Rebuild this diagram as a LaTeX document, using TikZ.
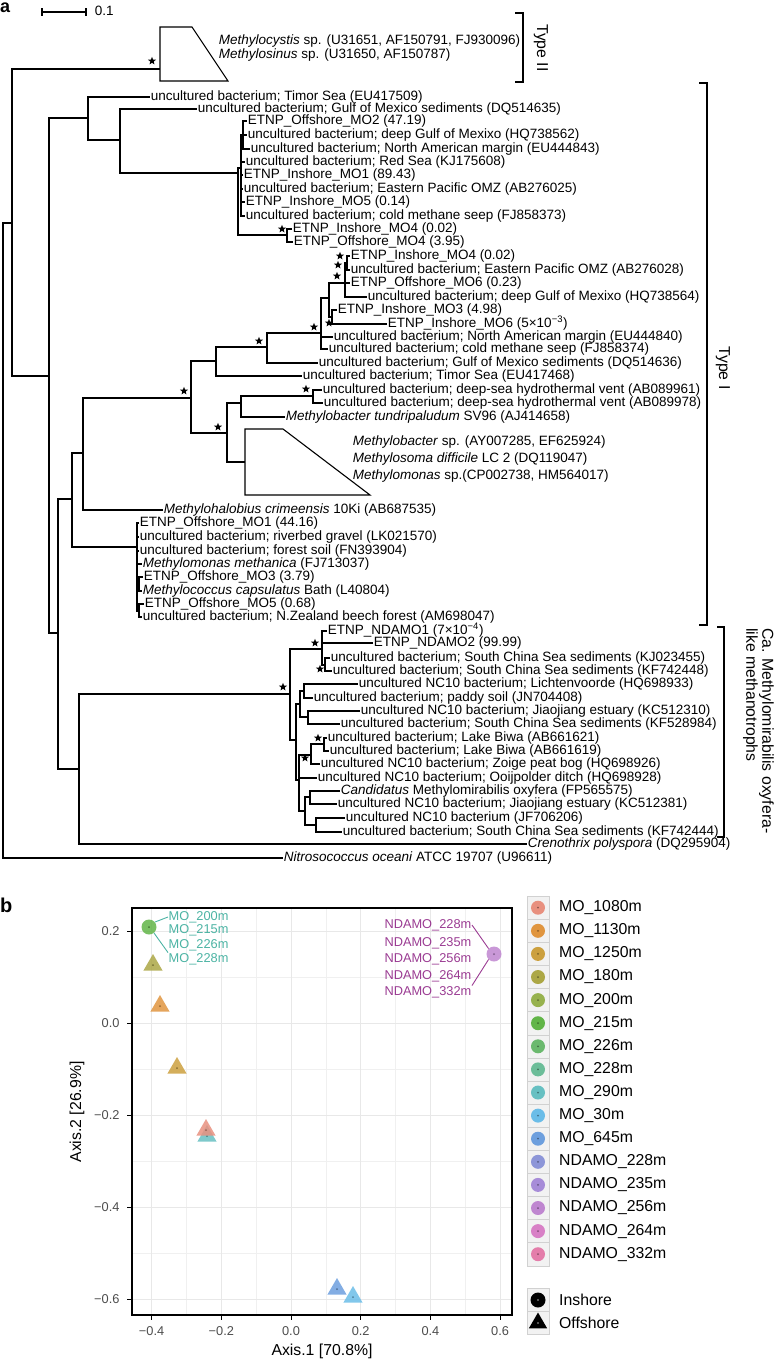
\documentclass[tikz,border=0pt]{standalone}
\usepackage{fontspec}
\setmainfont{Liberation Sans}
\usetikzlibrary{positioning,shapes.geometric}

\definecolor{c1080}{HTML}{E8907F}
\definecolor{c1130}{HTML}{E0953F}
\definecolor{c1250}{HTML}{CCA03E}
\definecolor{c180}{HTML}{ACA745}
\definecolor{c200}{HTML}{97B24E}
\definecolor{c215}{HTML}{62B548}
\definecolor{c226}{HTML}{6BB96E}
\definecolor{c228}{HTML}{6CBD99}
\definecolor{c290}{HTML}{67C0C2}
\definecolor{c30}{HTML}{6BBDE8}
\definecolor{c645}{HTML}{6D9FDE}
\definecolor{n228}{HTML}{8D96D8}
\definecolor{n235}{HTML}{A78CD8}
\definecolor{n256}{HTML}{BF86D0}
\definecolor{n264}{HTML}{D880C6}
\definecolor{n332}{HTML}{E47DAA}
\definecolor{molab}{HTML}{4BB3A3}
\definecolor{ndlab}{HTML}{9A3B92}

\begin{document}
\begin{tikzpicture}[x=1pt,y=-1pt,
		lf/.style={anchor=west,inner sep=0.6pt,font=\fontsize{13.5}{14}\selectfont,text height=9.4pt,text depth=2.4pt},
		br/.style={line width=1.1pt},
		sr/.style={star,star points=5,star point ratio=2.4,fill=black,inner sep=0pt,minimum size=8.5pt},
		bk/.style={line width=1.1pt},
		tp/.style={font=\fontsize{15.8}{16}\selectfont},
		gm/.style={black!9,line width=0.9pt},
		gn/.style={black!6,line width=0.5pt},
		tk/.style={font=\fontsize{12.8}{13}\selectfont,text=black!70},
		pc/.style={circle,fill=#1,fill opacity=0.85,inner sep=0pt,minimum size=15pt,path picture={\fill[#1!60!black] (path picture bounding box.center) circle (1pt);}},
		pt/.style={regular polygon,regular polygon sides=3,fill=#1,fill opacity=0.85,inner sep=0pt,minimum size=22pt,path picture={\fill[#1!60!black] ([yshift=-2.75pt]path picture bounding box.center) circle (1pt);}},
		rl/.style={font=\fontsize{12.8}{13}\selectfont,inner sep=0.5pt},
		kb/.style={draw=black!18,fill=black!5,minimum width=22pt,minimum height=23.1pt,inner sep=0pt,outer sep=0pt},
		kc/.style={circle,fill=#1,inner sep=0pt,minimum size=14pt,path picture={\fill[#1!60!black] (path picture bounding box.center) circle (1pt);}},
		kt/.style={anchor=west,font=\fontsize{15.8}{16}\selectfont,inner sep=0pt}
		]
		\useasboundingbox (0,0) rectangle (776,1361);
		
		% panel a
		\node [anchor=base west,inner sep=0pt,font=\fontsize{18}{18}\selectfont\bfseries] (pa) at (0,12) {a};
		\draw [br] (42,12) -- (86,12) (42,8) -- (42,16) (86,8) -- (86,16);
		\node [lf] (scale) at (94,12) {0.1};
		
		% collapsed clades
		\draw [br] (160,27) -- (192,27) -- (228,81) -- (160,81) -- cycle;
		\draw [br] (245,429) -- (283,429) -- (370,495) -- (245,495) -- cycle;
		\coordinate (t1s) at (160,69);
		\coordinate (t2s) at (245,462);
		
		% leaves
		\node [lf] (tIa) at (218,41) {\textit{Methylocystis} sp. (U31651, AF150791, FJ930096)};
		\node [lf] (tIb) at (218,55) {\textit{Methylosinus} sp. (U31650, AF150787)};
		\node [lf] (l1) at (150,97) {uncultured bacterium; Timor Sea (EU417509)};
		\node [lf] (l2) at (197,109) {uncultured bacterium; Gulf of Mexico sediments (DQ514635)};
		\node [lf] (l3) at (247,121) {ETNP\_Offshore\_MO2 (47.19)};
		\node [lf] (l4) at (247,135) {uncultured bacterium; deep Gulf of Mexixo (HQ738562)};
		\node [lf] (l5) at (250,149) {uncultured bacterium; North American margin (EU444843)};
		\node [lf] (l6) at (245,162) {uncultured bacterium; Red Sea (KJ175608)};
		\node [lf] (l7) at (243,175) {ETNP\_Inshore\_MO1 (89.43)};
		\node [lf] (l8) at (243,189) {uncultured bacterium; Eastern Pacific OMZ (AB276025)};
		\node [lf] (l9) at (245,202) {ETNP\_Inshore\_MO5 (0.14)};
		\node [lf] (l10) at (245,216) {uncultured bacterium; cold methane seep (FJ858373)};
		\node [lf] (l11) at (292,229) {ETNP\_Inshore\_MO4 (0.02)};
		\node [lf] (l12) at (293,242) {ETNP\_Offshore\_MO4 (3.95)};
		\node [lf] (l13) at (350,256) {ETNP\_Inshore\_MO4 (0.02)};
		\node [lf] (l14) at (350,270) {uncultured bacterium; Eastern Pacific OMZ (AB276028)};
		\node [lf] (l15) at (350,283) {ETNP\_Offshore\_MO6 (0.23)};
		\node [lf] (l16) at (367,297) {uncultured bacterium; deep Gulf of Mexixo (HQ738564)};
		\node [lf] (l17) at (337,310) {ETNP\_Inshore\_MO3 (4.98)};
		\node [lf] (l18) at (387,324) {ETNP\_Inshore\_MO6 (5×10\textsuperscript{−3})};
		\node [lf] (l19) at (333,337) {uncultured bacterium; North American margin (EU444840)};
		\node [lf] (l20) at (328,349) {uncultured bacterium; cold methane seep (FJ858374)};
		\node [lf] (l21) at (318,363) {uncultured bacterium; Gulf of Mexico sediments (DQ514636)};
		\node [lf] (l22) at (302,376) {uncultured bacterium; Timor Sea (EU417468)};
		\node [lf] (l23) at (322,390) {uncultured bacterium; deep-sea hydrothermal vent (AB089961)};
		\node [lf] (l24) at (323,403) {uncultured bacterium; deep-sea hydrothermal vent (AB089978)};
		\node [lf] (l25) at (285,417) {\textit{Methylobacter tundripaludum} SV96 (AJ414658)};
		\node [lf] (tIIa) at (352,442) {\textit{Methylobacter} sp. (AY007285, EF625924)};
		\node [lf] (tIIb) at (352,459) {\textit{Methylosoma difficile} LC 2 (DQ119047)};
		\node [lf] (tIIc) at (352,476) {\textit{Methylomonas} sp.(CP002738, HM564017)};
		\node [lf] (l26) at (163,510) {\textit{Methylohalobius crimeensis} 10Ki (AB687535)};
		\node [lf] (l27) at (139,523) {ETNP\_Offshore\_MO1 (44.16)};
		\node [lf] (l28) at (139,537) {uncultured bacterium; riverbed gravel (LK021570)};
		\node [lf] (l29) at (139,551) {uncultured bacterium; forest soil (FN393904)};
		\node [lf] (l30) at (142,564) {\textit{Methylomonas methanica} (FJ713037)};
		\node [lf] (l31) at (143,577) {ETNP\_Offshore\_MO3 (3.79)};
		\node [lf] (l32) at (142,591) {\textit{Methylococcus capsulatus} Bath (L40804)};
		\node [lf] (l33) at (144,604) {ETNP\_Offshore\_MO5 (0.68)};
		\node [lf] (l34) at (142,617) {uncultured bacterium; N.Zealand beech forest (AM698047)};
		\node [lf] (l35) at (327,631) {ETNP\_NDAMO1 (7×10\textsuperscript{−4})};
		\node [lf] (l36) at (373,643) {ETNP\_NDAMO2 (99.99)};
		\node [lf] (l37) at (330,658) {uncultured bacterium; South China Sea sediments (KJ023455)};
		\node [lf] (l38) at (332,671) {uncultured bacterium; South China Sea sediments (KF742448)};
		\node [lf] (l39) at (358,684) {uncultured NC10 bacterium; Lichtenvoorde (HQ698933)};
		\node [lf] (l40) at (313,698) {uncultured bacterium; paddy soil (JN704408)};
		\node [lf] (l41) at (360,711) {uncultured NC10 bacterium; Jiaojiang estuary (KC512310)};
		\node [lf] (l42) at (340,724) {uncultured bacterium; South China Sea sediments (KF528984)};
		\node [lf] (l43) at (327,738) {uncultured bacterium; Lake Biwa (AB661621)};
		\node [lf] (l44) at (329,751) {uncultured bacterium; Lake Biwa (AB661619)};
		\node [lf] (l45) at (320,764) {uncultured NC10 bacterium; Zoige peat bog (HQ698926)};
		\node [lf] (l46) at (317,778) {uncultured NC10 bacterium; Ooijpolder ditch (HQ698928)};
		\node [lf] (l47) at (340,791) {\textit{Candidatus} Methylomirabilis oxyfera (FP565575)};
		\node [lf] (l48) at (337,804) {uncultured NC10 bacterium; Jiaojiang estuary (KC512381)};
		\node [lf] (l49) at (345,818) {uncultured NC10 bacterium (JF706206)};
		\node [lf] (l50) at (342,832) {uncultured bacterium; South China Sea sediments (KF742444)};
		\node [lf] (l51) at (527,844) {\textit{Crenothrix polyspora} (DQ295904)};
		\node [lf] (l52) at (283,858) {\textit{Nitrosococcus oceani} ATCC 19707 (U96611)};
		
		% inner nodes
		\coordinate (R) at (3,540);
		\coordinate (A) at (12,223);
		\coordinate (B) at (49,376);
		\coordinate (D) at (88,118);
		\coordinate (E) at (120,140);
		\coordinate (F) at (238,173);
		\coordinate (F1) at (241,168);
		\coordinate (F2) at (243,135);
		\coordinate (G) at (287,235);
		\coordinate (C) at (58,633);
		\coordinate (N72) at (72,499);
		\coordinate (N83) at (83,453);
		\coordinate (N191) at (191,398);
		\coordinate (N216) at (216,361);
		\coordinate (N267) at (267,347);
		\coordinate (N321) at (321,333);
		\coordinate (N329) at (329,298);
		\coordinate (N345) at (345,283);
		\coordinate (N347) at (347,263);
		\coordinate (N332) at (332,317);
		\coordinate (N227) at (227,433);
		\coordinate (N241) at (241,403);
		\coordinate (N313) at (313,396);
		\coordinate (N137) at (137,547);
		\coordinate (N139a) at (139,584);
		\coordinate (N139b) at (139,611);
		\coordinate (N79) at (79,769);
		\coordinate (N290) at (290,694);
		\coordinate (N322) at (322,649);
		\coordinate (N325) at (325,665);
		\coordinate (N296) at (296,740);
		\coordinate (N300) at (300,704);
		\coordinate (N304) at (304,691);
		\coordinate (N308) at (308,717);
		\coordinate (N299) at (299,780);
		\coordinate (N311) at (311,755);
		\coordinate (N324) at (324,744);
		\coordinate (N305) at (305,811);
		\coordinate (N310) at (310,797);
		\coordinate (N317) at (316,825);
		
		% branches
		\draw [br] (R) |- (A) (R) |- (l52.west);
		\draw [br] (A) |- (t1s) (A) |- (B);
		\draw [br] (B) |- (D) (B) |- (C);
		\draw [br] (D) |- (l1.west) (D) |- (E);
		\draw [br] (E) |- (l2.west) (E) |- (F);
		\draw [br] (F) |- (F1) (F) |- (G);
		\draw [br] (F1) |- (F2) (F1) |- (l6.west) (F1) |- (l7.west) (F1) |- (l8.west) (F1) |- (l9.west) (F1) |- (l10.west);
		\draw [br] (F2) |- (l3.west) (F2) |- (l4.west) (F2) |- (l5.west);
		\draw [br] (G) |- (l11.west) (G) |- (l12.west);
		\draw [br] (C) |- (N72) (C) |- (N79);
		\draw [br] (N72) |- (N83) (N72) |- (N137);
		\draw [br] (N83) |- (N191) (N83) |- (l26.west);
		\draw [br] (N191) |- (N216) (N191) |- (N227);
		\draw [br] (N216) |- (N267) (N216) |- (l22.west);
		\draw [br] (N267) |- (N321) (N267) |- (l21.west);
		\draw [br] (N321) |- (N329) (N321) |- (l19.west) (N321) |- (l20.west);
		\draw [br] (N329) |- (N345) (N329) |- (N332);
		\draw [br] (N345) |- (N347) (N345) |- (l15.west) (N345) |- (l16.west);
		\draw [br] (N347) |- (l13.west) (N347) |- (l14.west);
		\draw [br] (N332) |- (l17.west) (N332) |- (l18.west);
		\draw [br] (N227) |- (N241) (N227) |- (t2s);
		\draw [br] (N241) |- (N313) (N241) |- (l25.west);
		\draw [br] (N313) |- (l23.west) (N313) |- (l24.west);
		\draw [br] (N137) |- (l27.west) (N137) |- (l28.west) (N137) |- (l29.west) (N137) |- (l30.west) (N137) |- (N139a) (N137) |- (N139b);
		\draw [br] (N139a) |- (l31.west) (N139a) |- (l32.west);
		\draw [br] (N139b) |- (l33.west) (N139b) |- (l34.west);
		\draw [br] (N79) |- (N290) (N79) |- (l51.west);
		\draw [br] (N290) |- (N322) (N290) |- (N296);
		\draw [br] (N322) |- (l35.west) (N322) |- (l36.west) (N322) |- (N325);
		\draw [br] (N325) |- (l37.west) (N325) |- (l38.west);
		\draw [br] (N296) |- (N300) (N296) |- (N299);
		\draw [br] (N300) |- (N304) (N300) |- (N308);
		\draw [br] (N304) |- (l39.west) (N304) |- (l40.west);
		\draw [br] (N308) |- (l41.west) (N308) |- (l42.west);
		\draw [br] (N299) |- (N311) (N299) |- (l46.west) (N299) |- (N305);
		\draw [br] (N311) |- (N324) (N311) |- (l45.west);
		\draw [br] (N324) |- (l43.west) (N324) |- (l44.west);
		\draw [br] (N305) |- (N310) (N305) |- (N317);
		\draw [br] (N310) |- (l47.west) (N310) |- (l48.west);
		\draw [br] (N317) |- (l49.west) (N317) |- (l50.west);
		
		% supported nodes
		\node [sr] (s1) at (152,61) {};
		\node [sr] (s2) at (282,229) {};
		\node [sr] (s3) at (340,256) {};
		\node [sr] (s4) at (338,265) {};
		\node [sr] (s5) at (337,276) {};
		\node [sr] (s6) at (329,323) {};
		\node [sr] (s7) at (314,327) {};
		\node [sr] (s8) at (259,341) {};
		\node [sr] (s9) at (184,391) {};
		\node [sr] (s10) at (306,389) {};
		\node [sr] (s11) at (218,427) {};
		\node [sr] (s12) at (315,643) {};
		\node [sr] (s13) at (320,669) {};
		\node [sr] (s14) at (283,687) {};
		\node [sr] (s15) at (318,738) {};
		\node [sr] (s16) at (305,758) {};
		
		% groups
		\draw [bk] (515,13) -- (523,13) -- (523,82) -- (515,82);
		\node [tp,rotate=-90] (type2) at (541,48) {Type II};
		\draw [bk] (699,83) -- (707,83) -- (707,625) -- (699,625);
		\node [tp,rotate=-90] (type1) at (723,368) {Type I};
		\draw [bk] (717,627) -- (724,627) -- (724,837) -- (717,837);
		\node [tp,rotate=-90,anchor=north west,align=left,inner sep=0pt] (nc10) at (774,628) {Ca. Methylomirabilis oxyfera-\\like methanotrophs};
		
		% panel b
		\node [anchor=base west,inner sep=0pt,font=\fontsize{20}{20}\selectfont\bfseries] (pb) at (0,912) {b};
		\draw [gn] (186.5,908) -- (186.5,1315) (256.2,908) -- (256.2,1315) (325.9,908) -- (325.9,1315) (395.6,908) -- (395.6,1315) (465.3,908) -- (465.3,1315);
		\draw [gn] (132,977) -- (512,977) (132,1069) -- (512,1069) (132,1161) -- (512,1161) (132,1253) -- (512,1253);
		\draw [gm] (151.6,908) -- (151.6,1315) (221.3,908) -- (221.3,1315) (291,908) -- (291,1315) (360.7,908) -- (360.7,1315) (430.4,908) -- (430.4,1315) (500.1,908) -- (500.1,1315);
		\draw [gm] (132,931) -- (512,931) (132,1023) -- (512,1023) (132,1115) -- (512,1115) (132,1207) -- (512,1207) (132,1299) -- (512,1299);
		
		\node [pt=c290] (p5) at (207,1136) {};
		\node [pt=c1080] (p4) at (206,1130) {};
		\node [pt=c180] (p1) at (153,965) {};
		\node [pt=c1130] (p2) at (160,1006) {};
		\node [pt=c1250] (p3) at (177,1068) {};
		\node [pt=c645] (p6) at (337,1289) {};
		\node [pt=c30] (p7) at (353,1297) {};
		\node [pc=c215] (ins) at (149,927) {};
		\node [pc=n256] (nd) at (494,954) {};
		
		\node [rl,anchor=west,text=molab] (m200) at (168,917) {MO\_200m};
		\node [rl,anchor=west,text=molab] (m215) at (168,930) {MO\_215m};
		\node [rl,anchor=west,text=molab] (m226) at (168,945) {MO\_226m};
		\node [rl,anchor=west,text=molab] (m228) at (168,959) {MO\_228m};
		\draw [molab,line width=0.9pt] (ins.40) -- (m200.west);
		\draw [molab,line width=0.9pt] (ins.-50) -- (m228.north west);
		\node [rl,anchor=east,text=ndlab] (d228) at (472,925) {NDAMO\_228m};
		\node [rl,anchor=east,text=ndlab] (d235) at (472,943) {NDAMO\_235m};
		\node [rl,anchor=east,text=ndlab] (d256) at (472,959) {NDAMO\_256m};
		\node [rl,anchor=east,text=ndlab] (d264) at (472,976) {NDAMO\_264m};
		\node [rl,anchor=east,text=ndlab] (d332) at (472,992) {NDAMO\_332m};
		\draw [ndlab,line width=0.9pt] (d228.east) -- (nd.135);
		\draw [ndlab,line width=0.9pt] (d332.north east) -- (nd.225);
		
		\draw [line width=1.2pt] (132,908) rectangle (512,1315);
		\draw [line width=0.9pt] (127,931) -- (132,931) (127,1023) -- (132,1023) (127,1115) -- (132,1115) (127,1207) -- (132,1207) (127,1299) -- (132,1299);
		\draw [line width=0.9pt] (151.6,1315) -- (151.6,1320) (221.3,1315) -- (221.3,1320) (291,1315) -- (291,1320) (360.7,1315) -- (360.7,1320) (430.4,1315) -- (430.4,1320) (500.1,1315) -- (500.1,1320);
		\node [tk,anchor=east] (y1) at (123,931) {0.2};
		\node [tk,anchor=east] (y2) at (123,1023) {0.0};
		\node [tk,anchor=east] (y3) at (123,1115) {−0.2};
		\node [tk,anchor=east] (y4) at (123,1207) {−0.4};
		\node [tk,anchor=east] (y5) at (123,1299) {−0.6};
		\node [tk,anchor=north] (x1) at (151.6,1323) {−0.4};
		\node [tk,anchor=north] (x2) at (221.3,1323) {−0.2};
		\node [tk,anchor=north] (x3) at (291,1323) {0.0};
		\node [tk,anchor=north] (x4) at (360.7,1323) {0.2};
		\node [tk,anchor=north] (x5) at (430.4,1323) {0.4};
		\node [tk,anchor=north] (x6) at (500.1,1323) {0.6};
		\node [tp] (ax1) at (322,1351) {Axis.1 [70.8\%]};
		\node [tp,rotate=90] (ax2) at (77,1112) {Axis.2 [26.9\%]};
		
		% legend
		\node [kb] (k1) at (538,907.7) {}; \node [kc=c1080] at (k1) {}; \node [kt,right=10pt of k1] {MO\_1080m};
		\node [kb] (k2) at (538,930.8) {}; \node [kc=c1130] at (k2) {}; \node [kt,right=10pt of k2] {MO\_1130m};
		\node [kb] (k3) at (538,953.9) {}; \node [kc=c1250] at (k3) {}; \node [kt,right=10pt of k3] {MO\_1250m};
		\node [kb] (k4) at (538,977.0) {}; \node [kc=c180] at (k4) {}; \node [kt,right=10pt of k4] {MO\_180m};
		\node [kb] (k5) at (538,1000.1) {}; \node [kc=c200] at (k5) {}; \node [kt,right=10pt of k5] {MO\_200m};
		\node [kb] (k6) at (538,1023.2) {}; \node [kc=c215] at (k6) {}; \node [kt,right=10pt of k6] {MO\_215m};
		\node [kb] (k7) at (538,1046.3) {}; \node [kc=c226] at (k7) {}; \node [kt,right=10pt of k7] {MO\_226m};
		\node [kb] (k8) at (538,1069.4) {}; \node [kc=c228] at (k8) {}; \node [kt,right=10pt of k8] {MO\_228m};
		\node [kb] (k9) at (538,1092.5) {}; \node [kc=c290] at (k9) {}; \node [kt,right=10pt of k9] {MO\_290m};
		\node [kb] (k10) at (538,1115.6) {}; \node [kc=c30] at (k10) {}; \node [kt,right=10pt of k10] {MO\_30m};
		\node [kb] (k11) at (538,1138.7) {}; \node [kc=c645] at (k11) {}; \node [kt,right=10pt of k11] {MO\_645m};
		\node [kb] (k12) at (538,1161.8) {}; \node [kc=n228] at (k12) {}; \node [kt,right=10pt of k12] {NDAMO\_228m};
		\node [kb] (k13) at (538,1184.9) {}; \node [kc=n235] at (k13) {}; \node [kt,right=10pt of k13] {NDAMO\_235m};
		\node [kb] (k14) at (538,1208.0) {}; \node [kc=n256] at (k14) {}; \node [kt,right=10pt of k14] {NDAMO\_256m};
		\node [kb] (k15) at (538,1231.1) {}; \node [kc=n264] at (k15) {}; \node [kt,right=10pt of k15] {NDAMO\_264m};
		\node [kb] (k16) at (538,1254.2) {}; \node [kc=n332] at (k16) {}; \node [kt,right=10pt of k16] {NDAMO\_332m};
		
		\node [kb] (s17) at (538,1300) {}; \node [circle,fill=black,inner sep=0pt,minimum size=15pt,path picture={\fill[black!55] (path picture bounding box.center) circle (1.2pt);}] at (s17) {}; \node [kt,right=10pt of s17] {Inshore};
		\node [kb] (s18) at (538,1323) {}; \node [regular polygon,regular polygon sides=3,fill=black,inner sep=0pt,minimum size=21pt,path picture={\fill[black!55] ([yshift=-2.6pt]path picture bounding box.center) circle (1.2pt);}] at (s18) {}; \node [kt,right=10pt of s18] {Offshore};
		
	\end{tikzpicture}
\end{document}
